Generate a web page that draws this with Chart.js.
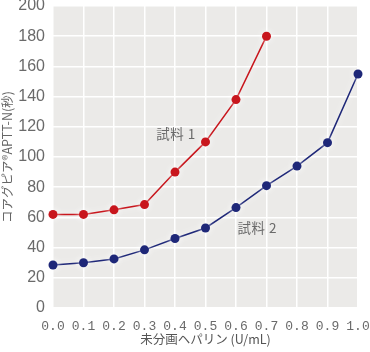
<!DOCTYPE html>
<html>
<head>
<meta charset="utf-8">
<script src="https://cdn.jsdelivr.net/npm/chart.js@4"></script>
<style>
  html, body { margin: 0; padding: 0; background: #fff; }
  #wrap { width: 370px; height: 352px; }
</style>
</head>
<body>
<div id="wrap"><canvas id="myChart" width="370" height="352"></canvas></div>
<script>
const heparin = [0.0, 0.1, 0.2, 0.3, 0.4, 0.5, 0.6, 0.7, 0.8, 0.9, 1.0];
const sample1 = [62, 62, 65, 68.5, 90, 110, 138, 180];
const sample2 = [28.5, 30, 32.5, 38.5, 46, 53, 66.5, 81, 94, 109.5, 155];
const yTicks = [0, 20, 40, 60, 80, 100, 120, 140, 160, 180, 200];
const seriesNames = ['試料 1', '試料 2'];
const nameAnchors = [[0.403, 115], [0.67, 53]];

function toPoints(vals) {
    return vals.map((v, i) => ({ x: heparin[i], y: v }));
}

const plotBg = {
    id: 'plotBg',
    beforeDraw(chart) {
        const { ctx, chartArea: a } = chart;
        ctx.save();
        ctx.fillStyle = '#ebeae8';
        ctx.fillRect(a.left, a.top, a.right - a.left, a.bottom - a.top);
        ctx.restore();
    },
    beforeDatasetsDraw(chart) {
        const ctx = chart.ctx;
        ctx.save();
        ctx.shadowColor = 'rgba(255,255,255,0.95)';
        ctx.shadowBlur = 7;
    },
    afterDatasetsDraw(chart) {
        const { ctx, scales } = chart;
        ctx.restore();
        ctx.save();
        ctx.font = '13.5px "Noto Sans CJK JP", sans-serif';
        ctx.fillStyle = '#6a6a6a';
        ctx.letterSpacing = '0.5px';
        ctx.textAlign = 'center';
        ctx.textBaseline = 'middle';
        seriesNames.forEach((name, i) => {
            const [vx, vy] = nameAnchors[i];
            ctx.fillText(name, scales.x.getPixelForValue(vx), scales.y.getPixelForValue(vy));
        });
        ctx.restore();
    }
};

const ctx = document.getElementById('myChart').getContext('2d');
const myChart = new Chart(ctx, {
    type: 'line',
    data: {
        datasets: [{
            label: seriesNames[0],
            data: toPoints(sample1),
            borderColor: '#c8161d',
            backgroundColor: '#c8161d',
            borderWidth: 1.5,
            pointRadius: 4.5,
            pointBorderWidth: 0,
            clip: false
        }, {
            label: seriesNames[1],
            data: toPoints(sample2),
            borderColor: '#1e2778',
            backgroundColor: '#1e2778',
            borderWidth: 1.5,
            pointRadius: 4.5,
            pointBorderWidth: 0,
            clip: false
        }]
    },
    options: {
        responsive: false,
        animation: false,
        layout: { padding: { top: 6, right: 12, bottom: 5, left: 0 } },
        plugins: { legend: { display: false }, tooltip: { enabled: false } },
        scales: {
            x: {
                type: 'linear',
                min: 0,
                max: 1,
                afterBuildTicks: s => { s.ticks = heparin.map(v => ({ value: v })); },
                afterFit: s => { s.height = 39; s.paddingLeft = 0; s.paddingRight = 0; },
                grid: { color: '#fff', lineWidth: 1.5, drawTicks: false },
                border: { display: false },
                ticks: {
                    padding: 11,
                    color: '#6a6a6a',
                    maxRotation: 0,
                    font: { family: '"Liberation Mono", monospace', size: 13 },
                    callback: v => v.toFixed(1)
                },
                title: {
                    display: true,
                    text: '未分画ヘパリン (U/mL)',
                    color: '#555',
                    padding: 0,
                    font: { family: '"Noto Sans CJK JP", sans-serif', size: 12.5 }
                }
            },
            y: {
                min: 0,
                max: 200,
                afterBuildTicks: s => { s.ticks = yTicks.map(v => ({ value: v })); },
                afterFit: s => { s.width = 53; s.paddingTop = 0; s.paddingBottom = 0; },
                grid: { color: '#fff', lineWidth: 1.5, drawTicks: false },
                border: { display: false },
                ticks: {
                    padding: 8,
                    color: '#6a6a6a',
                    font: { family: '"Liberation Sans Narrow", "Liberation Sans", sans-serif', size: 16 }
                },
                title: {
                    display: true,
                    text: 'コアグピア®APTT-N(秒)',
                    color: '#666',
                    padding: 0,
                    font: { family: '"Noto Sans CJK JP", sans-serif', size: 12.5 }
                }
            }
        }
    },
    plugins: [plotBg]
});
</script>
</body>
</html>
